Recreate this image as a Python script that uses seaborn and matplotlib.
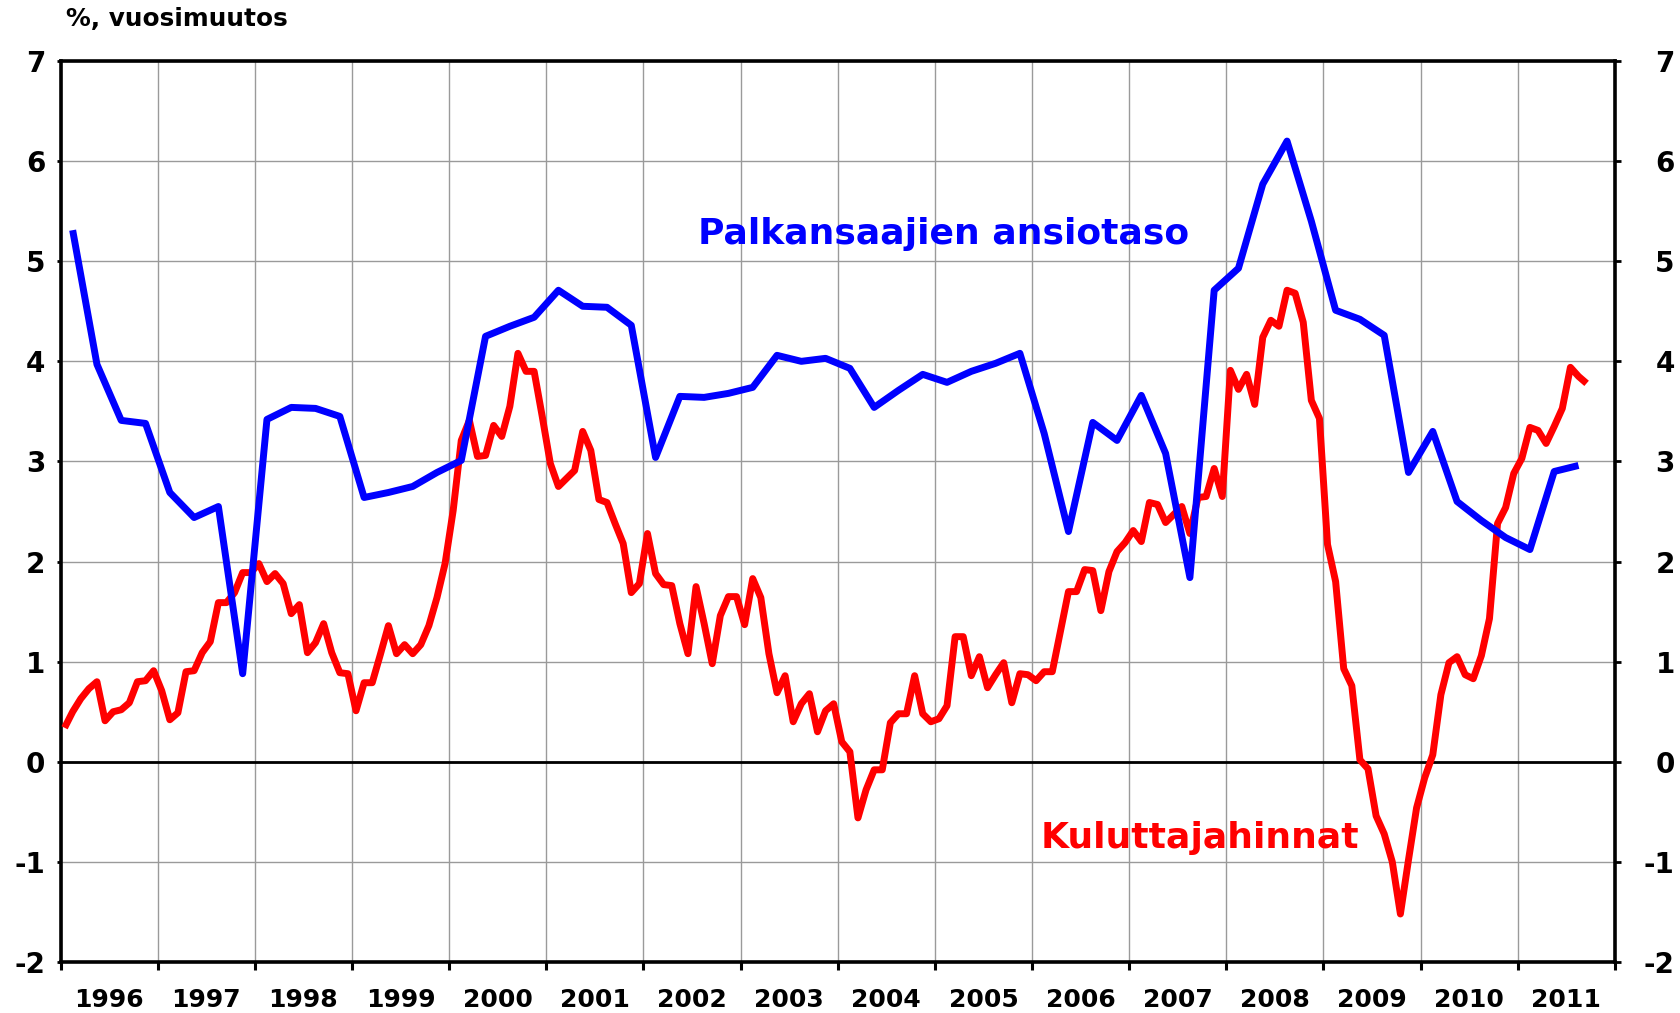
import numpy as np
import pandas as pd
import seaborn as sns
import matplotlib
matplotlib.use("Agg")
from matplotlib import pyplot as plt

# Palkansaajien ansiotaso, quarterly, 1996Q1 - 2011Q3 (% vuosimuutos)
wages = [5.31, 3.97, 3.41, 3.38,
         2.69, 2.44, 2.55, 0.88,
         3.42, 3.54, 3.53, 3.45,
         2.64, 2.69, 2.75, 2.89,
         3.01, 4.25, 4.35, 4.44,
         4.71, 4.55, 4.54, 4.36,
         3.04, 3.65, 3.64, 3.68,
         3.74, 4.06, 4.00, 4.03,
         3.93, 3.54, 3.71, 3.87,
         3.79, 3.90, 3.98, 4.08,
         3.28, 2.30, 3.39, 3.21,
         3.66, 3.08, 1.84, 4.71,
         4.93, 5.77, 6.20, 5.40,
         4.51, 4.42, 4.26, 2.89,
         3.30, 2.60, 2.41, 2.24,
         2.12, 2.90, 2.96]

# Kuluttajahinnat, monthly, 1996/01 - 2011/09
cpi = [0.34, 0.50, 0.63, 0.73, 0.80, 0.41, 0.50, 0.52, 0.59, 0.80, 0.81, 0.91,   # 1996
       0.71, 0.42, 0.49, 0.90, 0.91, 1.09, 1.20, 1.59, 1.59, 1.69, 1.89, 1.89,   # 1997
       1.98, 1.80, 1.88, 1.78, 1.48, 1.57, 1.09, 1.19, 1.38, 1.09, 0.89, 0.88,   # 1998
       0.51, 0.79, 0.79, 1.07, 1.36, 1.08, 1.17, 1.08, 1.17, 1.36, 1.64, 1.98,   # 1999
       2.51, 3.21, 3.41, 3.05, 3.06, 3.36, 3.25, 3.55, 4.08, 3.90, 3.90, 3.45,   # 2000
       2.98, 2.75, 2.83, 2.91, 3.30, 3.11, 2.62, 2.59, 2.38, 2.18, 1.69, 1.78,   # 2001
       2.28, 1.88, 1.77, 1.76, 1.38, 1.08, 1.75, 1.38, 0.98, 1.46, 1.65, 1.65,   # 2002
       1.37, 1.83, 1.64, 1.08, 0.69, 0.86, 0.40, 0.58, 0.68, 0.30, 0.51, 0.58,   # 2003
       0.20, 0.10, -0.56, -0.28, -0.08, -0.08, 0.39, 0.48, 0.48, 0.86, 0.48, 0.40,  # 2004
       0.43, 0.56, 1.25, 1.25, 0.86, 1.05, 0.74, 0.87, 0.99, 0.59, 0.88, 0.87,   # 2005
       0.81, 0.90, 0.90, 1.30, 1.70, 1.70, 1.92, 1.91, 1.51, 1.90, 2.10, 2.19,   # 2006
       2.31, 2.20, 2.59, 2.57, 2.39, 2.47, 2.55, 2.28, 2.64, 2.65, 2.93, 2.65,   # 2007
       3.91, 3.72, 3.87, 3.57, 4.24, 4.41, 4.35, 4.71, 4.68, 4.39, 3.61, 3.43,   # 2008
       2.17, 1.80, 0.93, 0.76, 0.02, -0.07, -0.54, -0.72, -1.00, -1.52, -0.98, -0.46,  # 2009
       -0.16, 0.07, 0.67, 0.99, 1.05, 0.87, 0.83, 1.06, 1.43, 2.38, 2.54, 2.88,  # 2010
       3.03, 3.34, 3.31, 3.18, 3.35, 3.53, 3.94, 3.85, 3.78]                     # 2011

years = list(range(1996, 2012))
y_ticks = list(range(-2, 8))

# time positions: monthly values at mid-month, quarterly values at mid-quarter
df_cpi = pd.DataFrame({"t": 1996 + (np.arange(len(cpi)) + 0.5) / 12, "v": cpi})
df_wage = pd.DataFrame({"t": 1996 + (np.arange(len(wages)) * 3 + 1.5) / 12, "v": wages})

sns.set_style("white")
plt.rcParams["font.family"] = ["DejaVu Sans"]
plt.rcParams["font.weight"] = "bold"
plt.rcParams["axes.unicode_minus"] = False
plt.rcParams["text.color"] = "black"
plt.rcParams["xtick.color"] = "black"
plt.rcParams["ytick.color"] = "black"

fig = plt.figure(figsize=(16.81, 10.13), dpi=100)
ax = fig.add_axes([0.036, 0.0503, 0.9247, 0.8895])

# grid + zero line
ax.set_axisbelow(True)
ax.grid(True, which="major", color="#9a9a9a", linewidth=1.0)
ax.axhline(0, color="black", linewidth=2.0, zorder=1.5)

sns.lineplot(data=df_cpi, x="t", y="v", ax=ax, color="#ff0000", linewidth=5,
             estimator=None, solid_capstyle="butt", zorder=3)
sns.lineplot(data=df_wage, x="t", y="v", ax=ax, color="#0000ff", linewidth=5,
             estimator=None, solid_capstyle="butt", zorder=4)

ax.set_xlim(1996, 2012)
ax.set_ylim(-2, 7)
ax.set_xlabel("")
ax.set_ylabel("")

# x axis: boundaries as major ticks, year names in the middle
ax.set_xticks(years + [2012])
ax.set_xticklabels([])
ax.set_xticks([y + 0.5 for y in years], minor=True)
ax.set_xticklabels([str(y) for y in years], minor=True, fontsize=18, fontweight="bold")
ax.tick_params(axis="x", which="major", direction="out", length=6, width=2.2,
               color="black", bottom=True)
ax.tick_params(axis="x", which="minor", length=0, pad=19, labelcolor="black")

ax.set_yticks(y_ticks)
ax.set_yticklabels([str(v) for v in y_ticks], fontsize=20, fontweight="bold")
ax.tick_params(axis="y", which="major", direction="out", length=3, width=2,
               color="black", left=True, pad=8, labelcolor="black")

for side in ["left", "right", "top", "bottom"]:
    ax.spines[side].set_visible(True)
    ax.spines[side].set_color("black")
    ax.spines[side].set_linewidth(2.6)

# right-hand scale, labels right-aligned
ax2 = ax.twinx()
ax2.set_ylim(-2, 7)
ax2.set_yticks(y_ticks)
ax2.set_yticklabels([str(v) for v in y_ticks], fontsize=20, fontweight="bold")
ax2.tick_params(axis="y", direction="out", length=4, width=2, color="black",
                pad=39, labelcolor="black")
for lbl in ax2.get_yticklabels():
    lbl.set_horizontalalignment("right")
for side in ["left", "right", "top", "bottom"]:
    ax2.spines[side].set_visible(False)
ax2.grid(False)

ax.text(2005.09, 5.27, "Palkansaajien ansiotaso", color="#0000ff", fontsize=26,
        fontweight="bold", ha="center", va="center", zorder=5)
ax.text(2007.73, -0.76, "Kuluttajahinnat", color="#ff0000", fontsize=26,
        fontweight="bold", ha="center", va="center", zorder=5)

fig.text(66 / 1681, 1 - 19 / 1013, "%, vuosimuutos", fontsize=17.8,
         fontweight="bold", ha="left", va="center", color="black")

fig.savefig("out.png", dpi=100)
